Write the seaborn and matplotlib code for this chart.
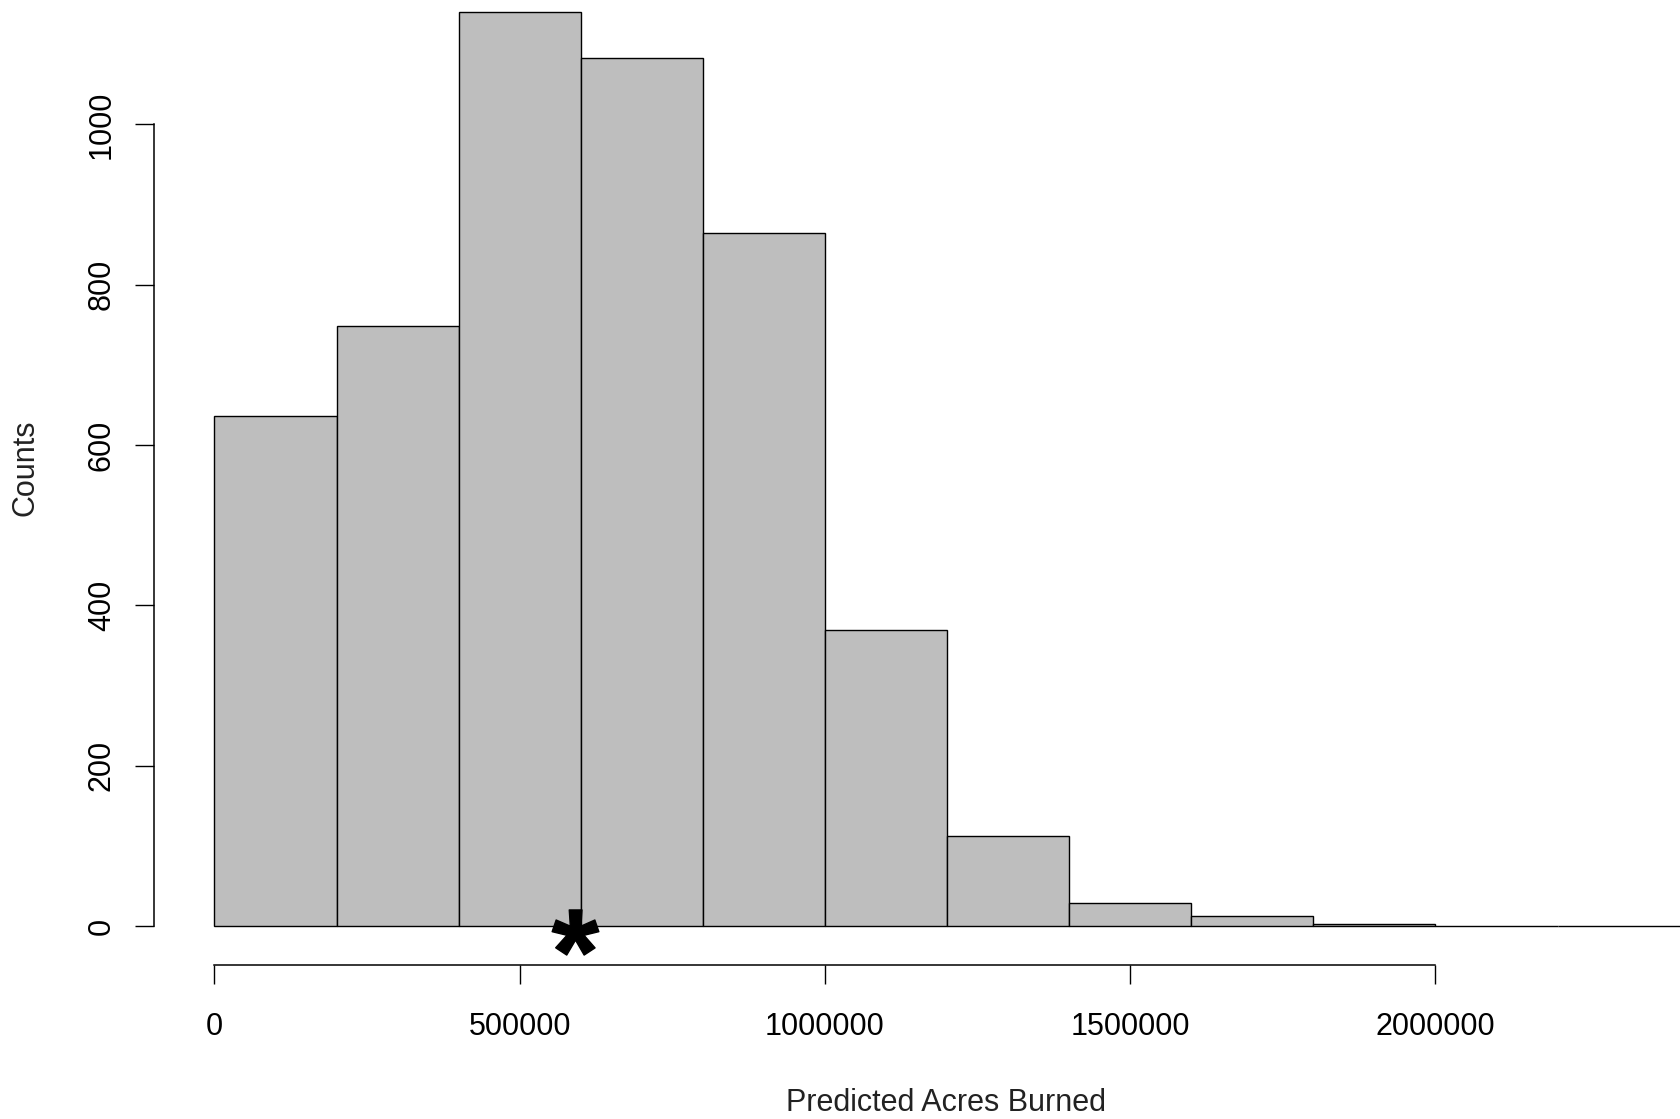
import numpy as np
import matplotlib
matplotlib.use("Agg")
import matplotlib.pyplot as plt
import seaborn as sns
from matplotlib.path import Path
from matplotlib.textpath import TextPath
from matplotlib.font_manager import FontProperties

# histogram bins (acres) and counts
bin_edges = [0, 200000, 400000, 600000, 800000, 1000000, 1200000,
             1400000, 1600000, 1800000, 2000000, 2200000, 2400000]
counts = [636, 749, 1140, 1083, 864, 369, 112, 29, 12, 2, 0, 0]
observed = 590000  # the asterisk

x_ticks = [0, 500000, 1000000, 1500000, 2000000]
y_ticks = [0, 200, 400, 600, 800, 1000]

sns.set_style("ticks")
plt.rcParams['font.family'] = ['Liberation Sans', 'DejaVu Sans']

fig = plt.figure(figsize=(16.81, 11.19), dpi=100)
ax = fig.add_axes([100 / 1681, 119 / 1119, 1581 / 1681, 1000 / 1119])

centers = [(a + b) / 2 for a, b in zip(bin_edges[:-1], bin_edges[1:])]
sns.histplot(x=centers, weights=counts, bins=bin_edges, color='#BEBEBE',
             edgecolor='black', linewidth=1.0, alpha=1, ax=ax)

# asterisk marker for the observed value (centred glyph outline)
tp = TextPath((0, 0), '*', prop=FontProperties(family='Liberation Sans', weight='bold'))
codes = tp.codes
v = tp.vertices.copy()
closing = codes == Path.CLOSEPOLY
real = v[~closing]
v = v - (real.min(axis=0) + real.max(axis=0)) / 2
v[closing] = 0
star = Path(v, codes)
ax.scatter([observed], [-7], marker=star, s=1130, color='black', zorder=5, clip_on=False)

ax.set_xlim(-187372, 2402100)
ax.set_ylim(-92.3, 1155.2)

for s in ['top', 'right']:
    ax.spines[s].set_visible(False)
ax.spines['left'].set_position(('data', -98925))
ax.spines['left'].set_bounds(0, 1000)
ax.spines['bottom'].set_position(('data', -48.65))
ax.spines['bottom'].set_bounds(0, 2000000)
for s in ['left', 'bottom']:
    ax.spines[s].set_color('black')
    ax.spines[s].set_linewidth(1.1)

ax.set_xticks(x_ticks)
ax.set_xticklabels([str(t) for t in x_ticks])
ax.set_yticks(y_ticks)
ax.set_yticklabels([str(t) for t in y_ticks], rotation=90, va='center')
ax.tick_params(axis='both', direction='out', length=13.7, width=1.0,
               color='black', labelsize=22, labelcolor='black',
               bottom=True, left=True)
ax.tick_params(axis='x', pad=20)
ax.tick_params(axis='y', pad=13)

ax.set_xlabel('')
ax.set_ylabel('')
fig.text(946 / 1681, 1 - 1103 / 1119, 'Predicted Acres Burned', fontsize=22,
         ha='center', va='center', color='#222222')
fig.text(26 / 1681, 1 - 468 / 1119, 'Counts', fontsize=22, rotation=90,
         ha='center', va='center', color='#222222')

fig.savefig('out.png', dpi=100, facecolor='white')
